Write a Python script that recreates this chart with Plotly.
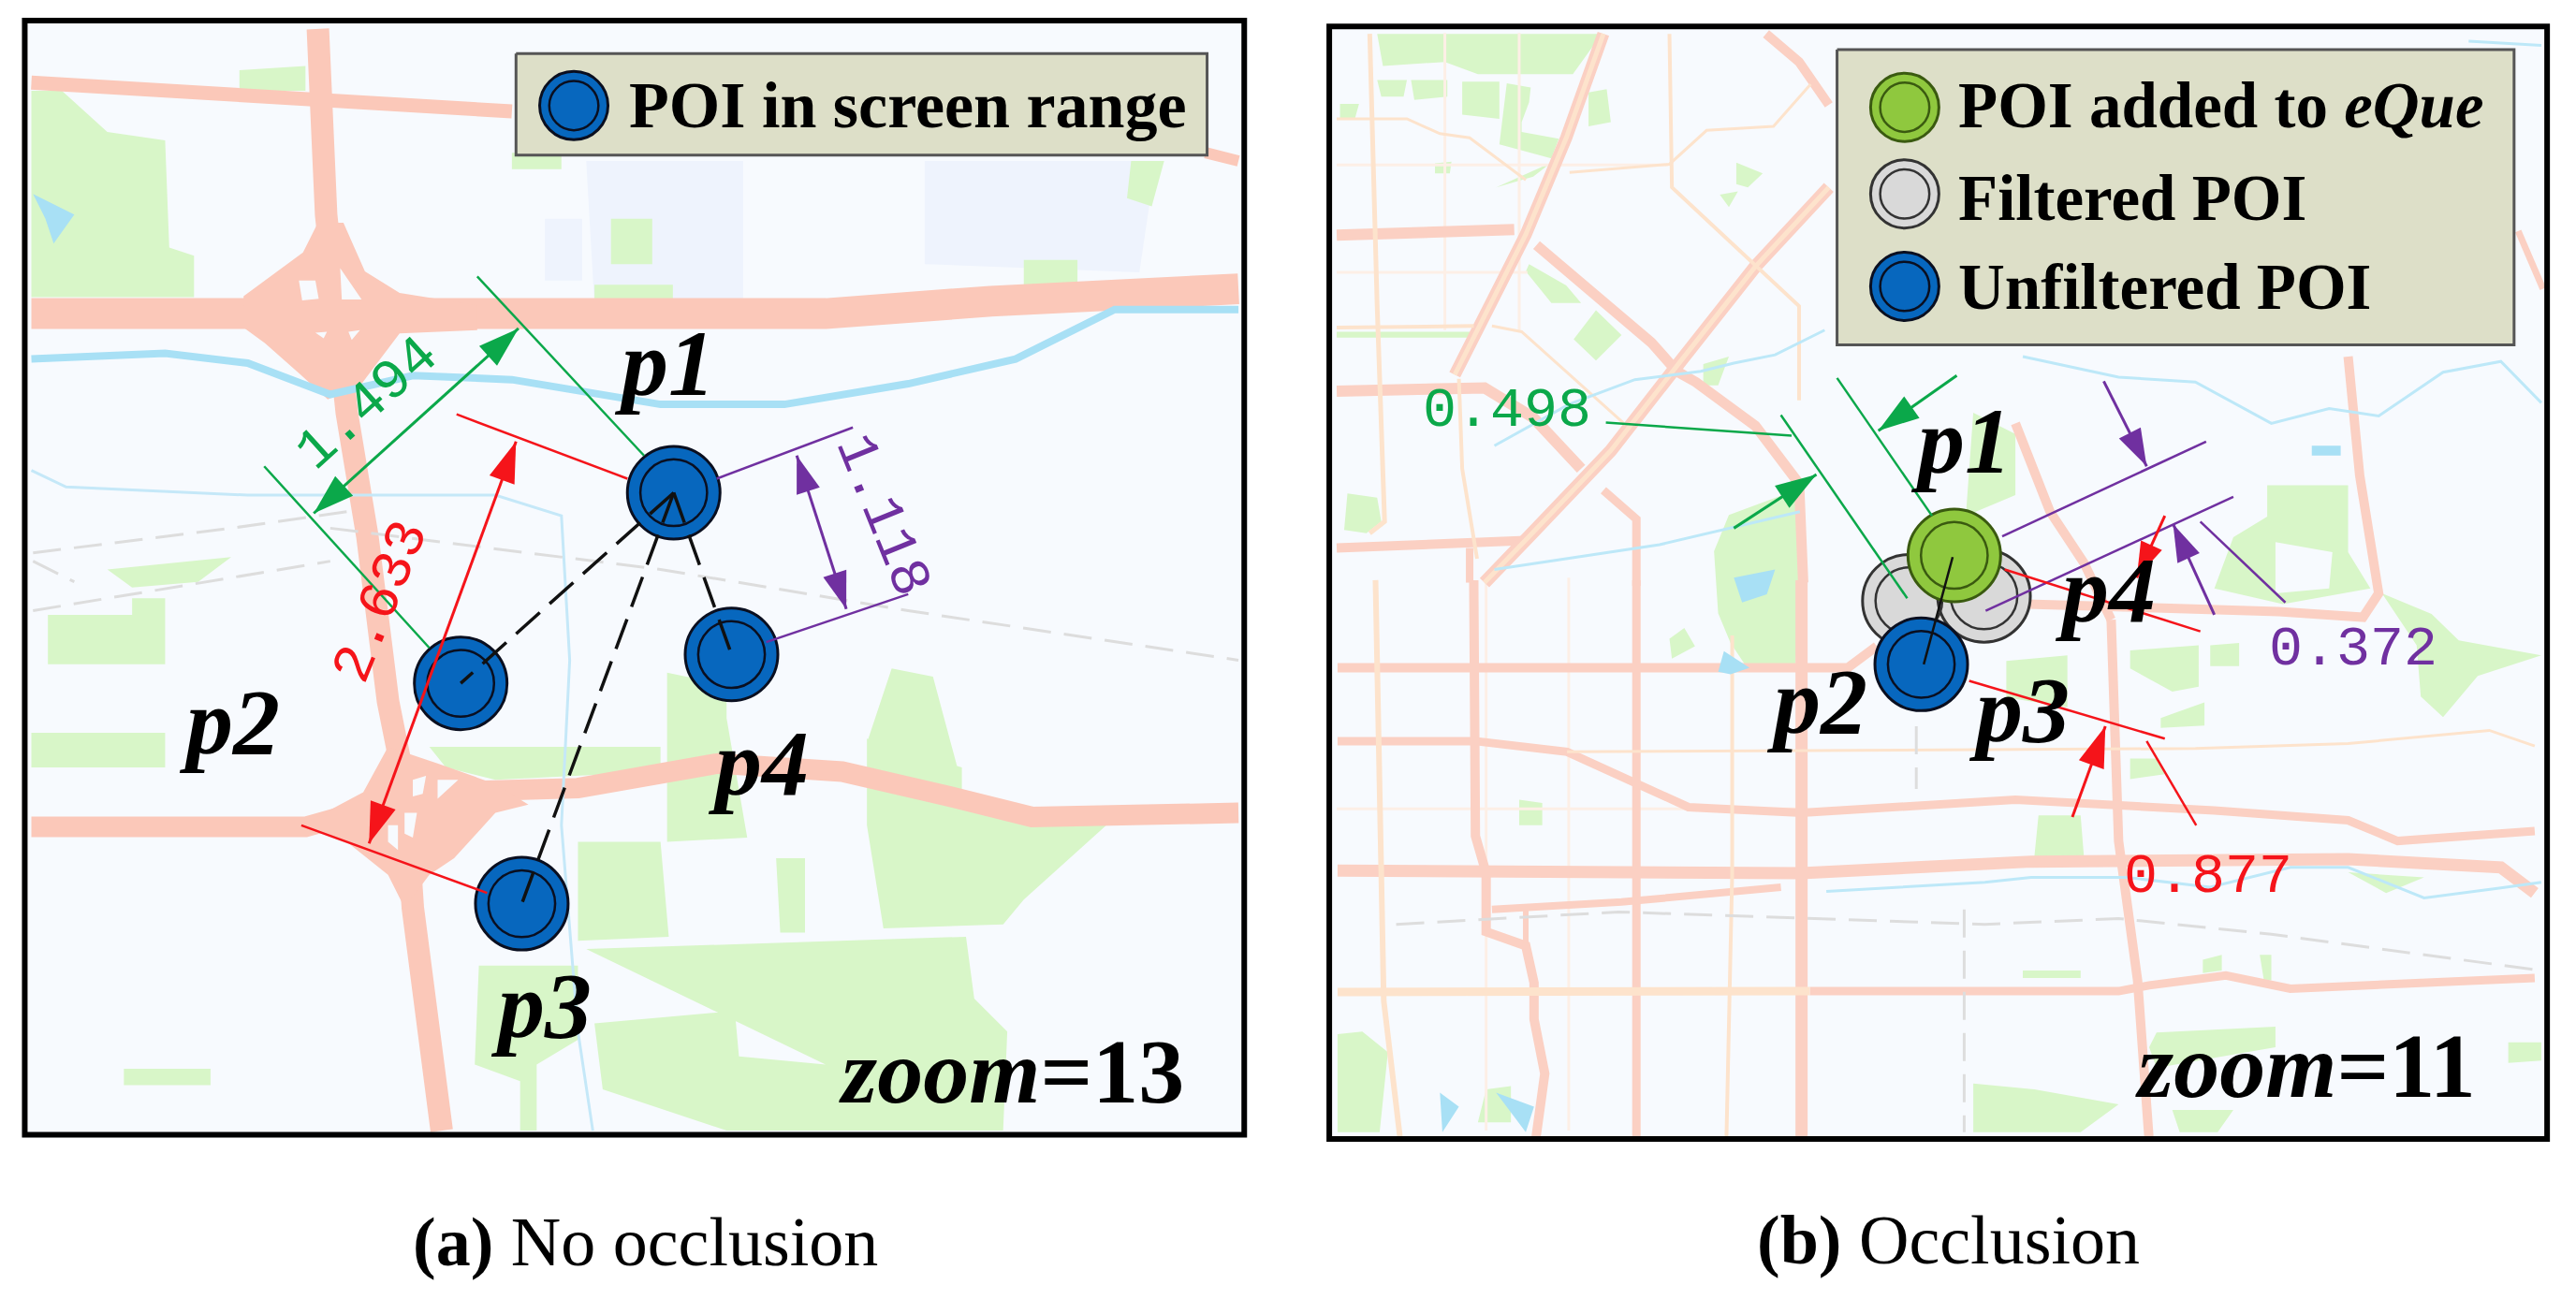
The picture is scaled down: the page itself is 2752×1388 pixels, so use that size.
import plotly.graph_objects as go
import math

# all coordinates are in "map units", one panel is 1560 x 1574 of them
# --- panel a data ---
roads_a = [
    ([38, 300, 620], [100, 115, 135], 15),
    ([1460, 1500], [185, 195], 12),
    ([385, 388, 395, 420, 445, 470, 490, 500, 520, 535], [35, 150, 260, 500, 650, 850, 950, 1100, 1250, 1370], 24),
    ([38, 350, 600, 1000, 1200, 1500], [380, 382, 385, 380, 365, 350], 33),
    ([38, 370, 520, 700, 870, 1020, 1150, 1250, 1500], [1002, 1002, 960, 955, 925, 935, 965, 990, 985], 22),
]
interchange_a = [
    [(295, 359), (367, 306), (385, 270), (416, 270), (442, 329), (484, 355), (578, 370), (578, 400), (484, 404),
     (438, 465), (397, 484), (363, 453), (321, 416), (295, 397)],
    [(365, 1000), (440, 960), (470, 905), (530, 925), (600, 950), (640, 975), (600, 985), (550, 1040), (520, 1060),
     (490, 1100), (470, 1060), (420, 1020)],
]
holes_a = [
    [(362, 340), (382, 340), (386, 362), (366, 364)],
    [(412, 325), (438, 363), (414, 363)],
    [(382, 403), (396, 402), (392, 410)],
    [(422, 402), (436, 400), (426, 412)],
    [(500, 945), (516, 940), (512, 962), (500, 965)],
    [(530, 945), (555, 945), (530, 968)],
    [(490, 985), (505, 985), (500, 1015), (490, 1010)],
    [(470, 1000), (482, 1000), (482, 1030), (470, 1020)],
]
river_a_x = [38, 200, 300, 400, 500, 620, 800, 950, 1100, 1230, 1350, 1500]
river_a_y = [435, 428, 440, 478, 455, 460, 490, 490, 465, 435, 375, 375]
stream_a_x = [38, 80, 300, 600, 680, 690, 680, 700, 718]
stream_a_y = [570, 590, 600, 600, 625, 800, 1000, 1250, 1370]
rail_a_x = [40, 280, 420, None, 400, 800, 1100, 1500, None, 40, 90, None, 40, 400]
rail_a_y = [670, 640, 620, None, 640, 690, 740, 800, None, 680, 705, None, 740, 680]
green_a = [
    [(38, 110), (75, 110), (130, 160), (200, 170), (205, 300), (235, 310), (235, 360), (38, 360)],
    [(290, 85), (370, 80), (370, 110), (290, 110)],
    [(58, 745), (160, 745), (160, 725), (200, 725), (200, 805), (58, 805)],
    [(38, 888), (200, 888), (200, 930), (38, 930)],
    [(150, 1295), (255, 1295), (255, 1315), (150, 1315)],
    [(130, 690), (280, 675), (240, 705), (160, 712)],
    [(520, 905), (800, 905), (800, 935), (600, 945), (540, 930)],
    [(808, 815), (880, 830), (880, 870), (905, 1015), (808, 1020)],
    [(1080, 810), (1130, 820), (1165, 950), (1050, 900)],
    [(700, 1020), (800, 1020), (810, 1135), (700, 1140)],
    [(1050, 895), (1165, 930), (1165, 970), (1340, 1000), (1240, 1090), (1215, 1120), (1070, 1125), (1050, 1000)],
    [(940, 1040), (975, 1040), (975, 1130), (945, 1130)],
    [(710, 1150), (1170, 1135), (1180, 1210), (1220, 1250), (1215, 1370), (880, 1370), (730, 1320), (720, 1240),
     (890, 1225), (895, 1280), (1000, 1290)],
    [(580, 1170), (700, 1170), (700, 1260), (650, 1290), (650, 1370), (630, 1370), (630, 1310), (575, 1290)],
    [(620, 185), (680, 185), (680, 205), (620, 205)],
    [(740, 265), (790, 265), (790, 320), (740, 320)],
    [(720, 345), (815, 345), (815, 365), (720, 365)],
    [(1240, 315), (1305, 315), (1305, 345), (1240, 345)],
    [(1370, 195), (1410, 195), (1395, 250), (1365, 240)],
]
lavender_a = [
    [(710, 195), (900, 195), (900, 370), (720, 370)],
    [(660, 265), (705, 265), (705, 340), (660, 340)],
    [(1120, 195), (1400, 195), (1380, 330), (1120, 320)],
]
pond_a = [[(40, 235), (90, 260), (65, 295), (55, 265)]]

poi_a_x = [816, 558, 632, 886]
poi_a_y = [597, 828, 1095, 793]
label_a_x = [805, 278, 655, 918]
label_a_y = [440, 875, 1218, 925]
poi_names = ["p1", "p2", "p3", "p4"]

green_lines_a = [([578, 780], [335, 552]), ([320, 520], [565, 785])]
red_lines_a = [([553, 760], [502, 580]), ([365, 590], [1000, 1082])]
purple_lines_a = [([868, 1033], [580, 518]), ([928, 1100], [778, 720])]

# --- panel b data ---
pink_b = [
    ([59, 274], [285, 278], 12),
    ([301, 440, 471, 494, 566, 619, 624], [297, 415, 450, 463, 516, 586, 706], 11),
    ([59, 238, 297, 355], [474, 470, 506, 568], 12),
    ([382, 422, 422], [594, 629, 710], 9),
    ([59, 211, 288], [664, 659, 655], 10),
    ([220, 220], [664, 706], 8),
    ([382, 337, 288, 229, 202], [41, 167, 284, 402, 454], 13),
    ([655, 566, 476, 391, 292, 238], [227, 323, 437, 546, 650, 706], 14),
    ([579, 619, 655], [41, 75, 127], 10),
    ([60, 678, 713], [809, 809, 783], 10),
    ([225, 227, 227, 240, 240, 288, 298, 298, 311, 300], [703, 894, 1013, 1058, 1129, 1146, 1191, 1235, 1301, 1381], 10),
    ([422, 422], [703, 1381], 9),
    ([622, 622], [703, 1381], 13),
    ([60, 227, 338, 414, 485, 622, 881, 1122, 1284, 1344, 1510], [898, 898, 911, 947, 978, 985, 969, 982, 994, 1019, 1007], 9),
    ([60, 622, 900, 997, 1284, 1469, 1510], [1055, 1058, 1044, 1044, 1041, 1051, 1082], 13),
    ([597, 404, 247], [1075, 1093, 1102], 8),
    ([288, 288], [1102, 1142], 6),
    ([632, 1006, 1043, 1136, 1214, 1510], [1201, 1201, 1194, 1182, 1198, 1185], 9),
    ([1284, 1298, 1321, 1302, 1200, 895], [432, 576, 719, 748, 741, 732], 10),
    ([881, 923, 964, 997], [513, 620, 682, 751], 10),
    ([997, 1006, 1029, 1043], [751, 1019, 1188, 1382], 10),
    ([1490, 1520], [280, 350], 7),
]
orange_b = [
    ([99, 108, 117, 99], [41, 371, 632, 646], 5),
    ([106, 113, 116, 136], [703, 1058, 1213, 1381], 6),
    ([462, 465, 619, 619], [41, 227, 371, 485], 4),
    ([59, 144, 184, 220, 288], [144, 144, 162, 167, 218], 3),
    ([341, 462, 507, 588, 633], [209, 199, 158, 153, 102], 3),
    ([59, 225], [397, 395], 4),
    ([247, 283, 409], [395, 402, 515], 3),
    ([207, 211, 229], [459, 568, 677], 4),
    ([538, 538, 531], [770, 1058, 1381], 4),
    ([60, 632], [1202, 1201], 9),
    ([338, 844, 1099, 1284, 1455, 1510], [911, 908, 907, 901, 885, 904], 3),
    ([382, 337, 288, 229, 202], [41, 167, 284, 402, 454], 5),
    ([655, 566, 476, 391, 292, 238], [227, 323, 437, 546, 650, 706], 5),
]
faint_b_x = [59, 460, None, 59, 290, None, 240, 240, None, 190, 190, None, 340, 340, None, 59, 620, None, 280, 280]
faint_b_y = [200, 200, None, 330, 330, None, 700, 1370, None, 40, 400, None, 700, 1370, None, 980, 980, None, 40, 400]
green_b = [
    [(108, 41), (380, 41), (345, 90), (230, 90), (190, 75), (115, 80)],
    [(108, 97), (144, 97), (140, 117), (113, 117)],
    [(149, 97), (193, 97), (193, 117), (153, 121)],
    [(211, 99), (256, 99), (256, 144), (211, 139)],
    [(265, 101), (294, 106), (292, 124), (283, 148), (283, 160), (328, 168), (319, 192), (256, 175)],
    [(364, 112), (386, 108), (391, 148), (364, 153)],
    [(63, 126), (86, 126), (81, 144), (63, 144)],
    [(178, 198), (198, 196), (196, 210), (178, 210)],
    [(252, 227), (319, 197), (297, 214)],
    [(292, 320), (337, 346), (355, 367), (319, 367), (288, 329)],
    [(346, 411), (373, 376), (404, 406), (373, 437)],
    [(543, 197), (575, 210), (557, 227), (543, 223)],
    [(523, 236), (545, 232), (534, 251)],
    [(503, 441), (534, 432), (521, 467), (503, 467)],
    [(72, 598), (108, 603), (113, 632), (95, 646), (68, 642)],
    [(59, 402), (220, 402), (220, 409), (59, 409)],
    [(534, 624), (615, 594), (624, 703), (614, 809), (556, 809), (536, 779), (521, 743), (516, 668)],
    [(60, 1253), (90, 1250), (121, 1275), (111, 1372), (60, 1372)],
    [(280, 969), (308, 973), (308, 1000), (280, 1000)],
    [(462, 774), (480, 761), (493, 783), (465, 798)],
    [(240, 1320), (270, 1316), (270, 1360), (230, 1360)],
    [(830, 500), (881, 526), (881, 600), (821, 625)],
    [(1186, 588), (1284, 588), (1284, 669), (1311, 713), (1205, 732), (1122, 713), (1145, 651), (1186, 626)],
    [(1020, 788), (1103, 782), (1103, 832), (1071, 838), (1020, 810)],
    [(1117, 782), (1152, 779), (1152, 807), (1117, 807)],
    [(1057, 870), (1110, 851), (1110, 879), (1057, 882)],
    [(870, 801), (944, 794), (944, 857), (870, 845)],
    [(1325, 719), (1385, 744), (1418, 776), (1518, 794), (1441, 819), (1399, 869), (1372, 844), (1367, 782)],
    [(909, 988), (960, 988), (964, 1038), (904, 1038)],
    [(1020, 919), (1052, 919), (1062, 938), (1020, 944)],
    [(890, 1176), (960, 1176), (960, 1185), (890, 1185)],
    [(1108, 1163), (1131, 1157), (1131, 1176), (1108, 1179)],
    [(1177, 1157), (1191, 1157), (1191, 1188), (1182, 1188)],
    [(1052, 1251), (1196, 1244), (1196, 1269), (1052, 1294), (1043, 1269)],
    [(1478, 1263), (1518, 1263), (1518, 1285), (1478, 1288)],
    [(830, 1313), (904, 1320), (1006, 1338), (960, 1372), (830, 1372)],
    [(1071, 1345), (1145, 1345), (1126, 1372), (1080, 1372)],
    [(1284, 1057), (1376, 1063), (1330, 1082)],
]
holes_b = [[(1196, 657), (1265, 669), (1261, 713), (1196, 719)]]
water_b = [
    [(521, 814), (528, 789), (559, 809), (536, 817)],
    [(184, 1324), (207, 1341), (187, 1372)],
    [(252, 1324), (298, 1341), (288, 1372)],
    [(540, 700), (590, 690), (580, 720), (550, 730)],
    [(1240, 540), (1275, 540), (1275, 552), (1240, 552)],
]
stream_b_x = [890, 1006, 1099, 1191, 1261, 1321, 1399, 1469, 1518, None,
              250, 450, 620, None, 652, 844, 900, 1015, 1117, 1214, 1284, 1376, 1469, 1518, None,
              250, 340, 420, 500, 540, 590, 650, None, 1430, 1518]
stream_b_y = [432, 457, 463, 513, 495, 504, 451, 438, 488, None,
              690, 660, 620, None, 1080, 1069, 1063, 1063, 1075, 1051, 1051, 1088, 1076, 1069, None,
              540, 490, 460, 450, 440, 430, 400, None, 50, 55]
rail_b_x = [131, 400, 844, 1006, 1191, 1518, None, 761, 761, None, 819, 819]
rail_b_y = [1120, 1105, 1120, 1113, 1132, 1176, None, 880, 956, None, 1102, 1372]
green_lines_b = [([665, 780], [458, 625]), ([597, 750], [503, 725]), ([385, 610], [512, 528])]
purple_lines_b = [([865, 1112], [650, 535]), ([845, 1145], [740, 602]), ([1105, 1208], [632, 730])]
red_lines_b = [([868, 1105], [690, 765]), ([825, 1062], [825, 895]), ([1040, 1100], [898, 1000])]
label_b_x = [815, 640, 885, 990]
label_b_y = [535, 850, 860, 715]

legend_a_x = [695]
legend_a_y = [128]
legend_b_x = [747, 747, 747]
legend_b_y = [130, 235, 347]
box_a_x = [625, 1462, 1462, 625, 625]
box_a_y = [65, 65, 188, 188, 65]
box_b_x = [665, 1485, 1485, 665, 665]
box_b_y = [60, 60, 418, 418, 60]

GREEN = "#0BA84A"
RED = "#F5141A"
PURPLE = "#7030A0"
BLUE = "#0767BE"
LIME = "#8FC83E"
GRAY = "#D9D9D9"
ROAD = "#FBC8B9"
ROAD_B = "#FBD0C3"
ORANGE = "#FDE3CC"
LEAF = "#D8F6C8"
MAP_BG = "#F7FAFE"
BOX = "#DDDFC8"
SERIF = "Liberation Serif"
MONO = "Liberation Mono"
OUTLINE = {BLUE: "#0A0F20", LIME: "#3A5A10", GRAY: "#333333"}

fig = go.Figure()


def line(x, y, color, width, panel, dash=None):
    fig.add_trace(go.Scatter(x=x, y=y, mode="lines", line=dict(color=color, width=width, dash=dash),
                             xaxis=panel[0], yaxis=panel[1], hoverinfo="skip"))


def patches(polys, color, panel):
    xs, ys = [], []
    for poly in polys:
        xs += [p[0] for p in poly] + [poly[0][0], None]
        ys += [p[1] for p in poly] + [poly[0][1], None]
    fig.add_trace(go.Scatter(x=xs, y=ys, mode="lines", fill="toself", fillcolor=color, line=dict(width=0),
                             xaxis=panel[0], yaxis=panel[1], hoverinfo="skip"))


def arrow(p0, p1, color, panel, both=False, size=46):
    # the "arrow" symbol has its tip on the point, so it lands right on the line end
    ang = math.degrees(math.atan2(p1[0] - p0[0], -(p1[1] - p0[1])))
    line([p0[0], p1[0]], [p0[1], p1[1]], color, 3, panel)
    xs, ys, angs = [p1[0]], [p1[1]], [ang]
    if both:
        xs.append(p0[0])
        ys.append(p0[1])
        angs.append(ang + 180)
    fig.add_trace(go.Scatter(x=xs, y=ys, mode="markers", xaxis=panel[0], yaxis=panel[1], hoverinfo="skip",
                             marker=dict(symbol="arrow", size=size, color=color, angle=angs, line=dict(width=0))))


def poi(x, y, color, panel, size=99):
    edge = OUTLINE[color]
    fig.add_trace(go.Scatter(x=x, y=y, mode="markers", xaxis=panel[0], yaxis=panel[1], hoverinfo="skip",
                             marker=dict(size=size, color=color, line=dict(color=edge, width=3))))
    fig.add_trace(go.Scatter(x=x, y=y, mode="markers", xaxis=panel[0], yaxis=panel[1], hoverinfo="skip",
                             marker=dict(size=size * 0.72, color="rgba(0,0,0,0)", line=dict(color=edge, width=2.5))))


def text(s, x, y, panel, size, color="black", font=SERIF, angle=0, anchor="center"):
    fig.add_annotation(text=s, x=x, y=y, xref=panel[0], yref=panel[1], showarrow=False, textangle=angle,
                       xanchor=anchor, yanchor="middle", font=dict(family=font, size=size, color=color))


A = ("x", "y")
B = ("x2", "y2")

# panel a
patches(lavender_a, "#EEF3FD", A)
patches(green_a, LEAF, A)
for x, y, w in roads_a:
    line(x, y, ROAD, w, A)
patches(interchange_a, ROAD, A)
patches(holes_a, MAP_BG, A)
patches(pond_a, "#A8E0F5", A)
line(river_a_x, river_a_y, "#A8E0F5", 8, A)
line(stream_a_x, stream_a_y, "#C5E8F8", 3, A)
line(rail_a_x, rail_a_y, "#DDDDDD", 3, A, dash="30px,14px")
# box first, its symbol and text come after
fig.add_trace(go.Scatter(x=box_a_x, y=box_a_y, mode="lines", fill="toself", fillcolor=BOX, hoverinfo="skip",
                         line=dict(color="#555555", width=3), xaxis="x", yaxis="y"))
poi(legend_a_x, legend_a_y, BLUE, A, size=73)

poi(poi_a_x, poi_a_y, BLUE, A)
for i in [1, 2, 3]:
    line([poi_a_x[0], poi_a_x[i]], [poi_a_y[0], poi_a_y[i]], "#111111", 3.5, A, dash="34px,14px")
for x, y in green_lines_a:
    line(x, y, GREEN, 2.5, A)
for x, y in red_lines_a:
    line(x, y, RED, 2.5, A)
for x, y in purple_lines_a:
    line(x, y, PURPLE, 2.5, A)
arrow((628, 398), (380, 622), GREEN, A, both=True)
arrow((625, 535), (447, 1022), RED, A, both=True)
arrow((965, 552), (1025, 738), PURPLE, A, both=True, size=42)

text("1.494", 445, 490, A, 60, GREEN, MONO, -42)
text("2.633", 462, 730, A, 60, RED, MONO, -68)
text("1.118", 1068, 625, A, 60, PURPLE, MONO, 68)
for s, x, y in zip(poi_names, label_a_x, label_a_y):
    text(f"<b><i>{s}</i></b>", x, y, A, 100)
text("<b><i>zoom</i>=13</b>", 1225, 1298, A, 98)
text("<b>(a)</b> No occlusion", 782, 1505, A, 74)
text("<b>POI in screen range</b>", 760, 128, A, 70, anchor="left")

# panel b
patches(green_b, LEAF, B)
patches(holes_b, MAP_BG, B)
line(faint_b_x, faint_b_y, "#FDEFE6", 3, B)
for x, y, w in pink_b:
    line(x, y, ROAD_B, w, B)
for x, y, w in orange_b:
    line(x, y, ORANGE, w, B)
patches(water_b, "#A8E0F5", B)
line(stream_b_x, stream_b_y, "#BDE8F8", 3, B)
line(rail_b_x, rail_b_y, "#DDDDDD", 3, B, dash="30px,14px")
fig.add_trace(go.Scatter(x=box_b_x, y=box_b_y, mode="lines", fill="toself", fillcolor=BOX, hoverinfo="skip",
                         line=dict(color="#555555", width=3), xaxis="x2", yaxis="y2"))
for xi, yi, c in zip(legend_b_x, legend_b_y, [LIME, GRAY, BLUE]):
    poi([xi], [yi], c, B, size=73)

poi([752, 843], [728, 722], GRAY, B)
poi([807], [673], LIME, B)
poi([767], [805], BLUE, B)
line([805, 770], [675, 805], "#111111", 2.5, B)
for x, y in green_lines_b:
    line(x, y, GREEN, 2.5, B)
for x, y in purple_lines_b:
    line(x, y, PURPLE, 2.5, B)
for x, y in red_lines_b:
    line(x, y, RED, 2.5, B)
arrow((810, 455), (715, 522), GREEN, B)
arrow((540, 640), (640, 575), GREEN, B)
arrow((988, 462), (1040, 565), PURPLE, B, size=42)
arrow((1122, 745), (1072, 635), PURPLE, B, size=42)
arrow((1062, 625), (1028, 700), RED, B, size=40)
arrow((950, 990), (990, 880), RED, B)

text("0.498", 265, 498, B, 60, GREEN, MONO)
text("0.372", 1290, 787, B, 60, PURPLE, MONO)
text("0.877", 1115, 1063, B, 60, RED, MONO)
for s, x, y in zip(poi_names, label_b_x, label_b_y):
    text(f"<b><i>{s}</i></b>", x, y, B, 100)
text("<b><i>zoom</i>=11</b>", 1232, 1292, B, 98)
text("<b>(b)</b> Occlusion", 800, 1503, B, 74)
text("<b>POI added to <i>eQue</i></b>", 810, 128, B, 69, anchor="left")
text("<b>Filtered POI</b>", 810, 240, B, 69, anchor="left")
text("<b>Unfiltered POI</b>", 810, 348, B, 69, anchor="left")

shapes = [
    dict(type="rect", xref="x", yref="y", x0=34, x1=1505, y0=28, y1=1372, fillcolor=MAP_BG, line_width=0, layer="below"),
    dict(type="rect", xref="x2", yref="y2", x0=54, x1=1522, y0=35, y1=1376, fillcolor=MAP_BG, line_width=0, layer="below"),
    dict(type="rect", xref="x", yref="y", x0=30, x1=1507, y0=25, y1=1375, line=dict(color="black", width=6)),
    dict(type="rect", xref="x2", yref="y2", x0=50, x1=1525, y0=32, y1=1380, line=dict(color="black", width=6)),
]

ax = dict(visible=False, range=[0, 1560], fixedrange=True)
ay = dict(visible=False, range=[1574, 0], fixedrange=True)
fig.update_layout(
    width=2752, height=1388, margin=dict(l=0, r=0, t=0, b=0), autosize=False,
    paper_bgcolor="white", plot_bgcolor="white", showlegend=False, shapes=shapes,
    xaxis=dict(ax, domain=[0, 0.5]), yaxis=dict(ay, domain=[0, 1]),
    xaxis2=dict(ax, domain=[0.5, 1]), yaxis2=dict(ay, domain=[0, 1], anchor="x2"),
)
# browser default body margin would push the figure 8px right and down
fig.write_html("out.html", config={"displayModeBar": False}, post_script="document.body.style.margin='0';")
